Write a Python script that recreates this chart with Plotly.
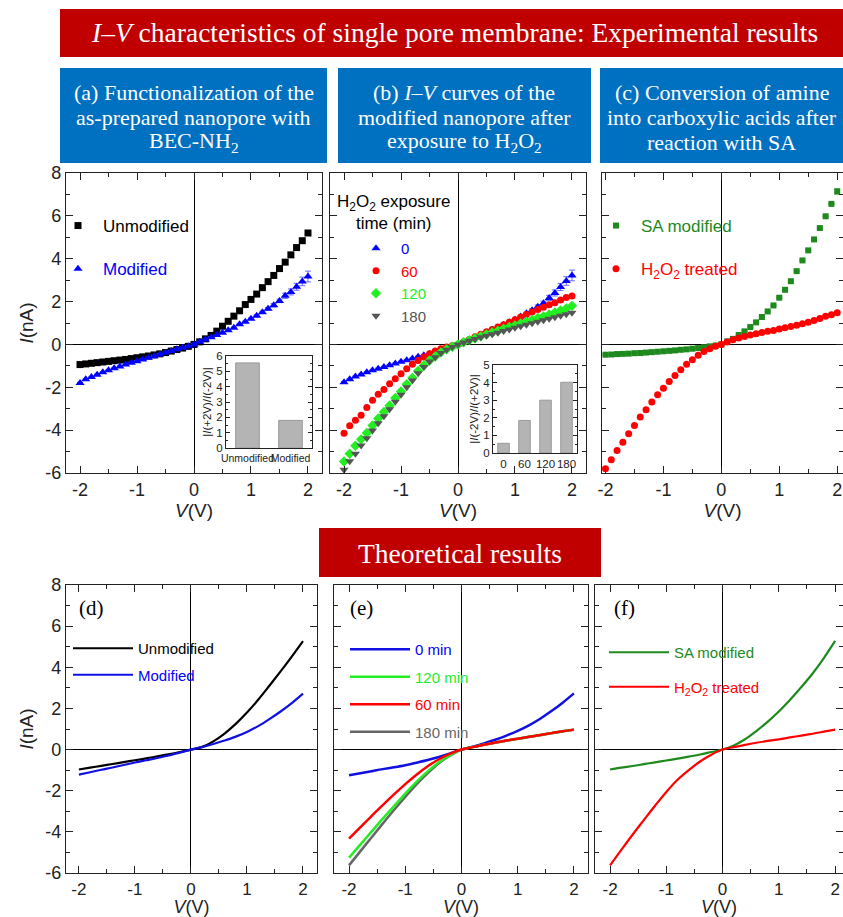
import plotly.graph_objects as go

W, H = 843, 917


def px(x):
    return x / W


def py(y):
    return 1 - y / H


# ---------------- data ----------------
V_EXP = [-2.0, -1.9, -1.8, -1.7, -1.6, -1.5, -1.4, -1.3, -1.2, -1.1, -1.0,
         -0.9, -0.8, -0.7, -0.6, -0.5, -0.4, -0.3, -0.2, -0.1, 0.0,
         0.1, 0.2, 0.3, 0.4, 0.5, 0.6, 0.7, 0.8, 0.9, 1.0,
         1.1, 1.2, 1.3, 1.4, 1.5, 1.6, 1.7, 1.8, 1.9, 2.0]
V_TH = [-2.0, -1.8, -1.6, -1.4, -1.2, -1.0, -0.8, -0.6, -0.4, -0.2, 0.0,
        0.2, 0.4, 0.6, 0.8, 1.0, 1.2, 1.4, 1.6, 1.8, 2.0]

# (a) experimental
A_UNMOD = [-0.94, -0.91, -0.88, -0.85, -0.82, -0.79, -0.76, -0.73, -0.70, -0.66, -0.62,
           -0.58, -0.54, -0.49, -0.44, -0.38, -0.31, -0.24, -0.17, -0.09, 0.0,
           0.12, 0.26, 0.42, 0.62, 0.85, 1.08, 1.32, 1.57, 1.86, 2.10,
           2.35, 2.65, 2.93, 3.22, 3.54, 3.84, 4.18, 4.52, 4.84, 5.20]
A_MOD = [-1.80, -1.63, -1.52, -1.41, -1.30, -1.20, -1.11, -1.03, -0.94, -0.86, -0.78,
         -0.70, -0.62, -0.55, -0.47, -0.39, -0.31, -0.23, -0.16, -0.08, 0.0,
         0.12, 0.23, 0.33, 0.44, 0.55, 0.66, 0.78, 0.94, 1.06, 1.20,
         1.34, 1.50, 1.66, 1.83, 2.03, 2.27, 2.45, 2.69, 2.94, 3.17]
A_MOD_ERR = [0.03] * 30 + [0.04, 0.05, 0.05, 0.06, 0.08, 0.08, 0.12, 0.14, 0.16, 0.2, 0.25]

# (b) experimental, H2O2 exposure time
B_0 = [-1.76, -1.62, -1.50, -1.40, -1.30, -1.21, -1.13, -1.05, -0.97, -0.89, -0.81,
       -0.74, -0.66, -0.58, -0.51, -0.43, -0.35, -0.27, -0.18, -0.09, 0.0,
       0.11, 0.22, 0.33, 0.44, 0.55, 0.66, 0.78, 0.91, 1.04, 1.16,
       1.30, 1.45, 1.60, 1.76, 1.92, 2.17, 2.40, 2.68, 2.96, 3.22]
B_0_ERR = [0.03] * 30 + [0.04, 0.05, 0.05, 0.06, 0.08, 0.1, 0.12, 0.14, 0.16, 0.2, 0.25]
B_60 = [-4.15, -3.80, -3.54, -3.30, -2.94, -2.61, -2.33, -2.10, -1.84, -1.60, -1.37,
        -1.13, -0.93, -0.75, -0.59, -0.44, -0.31, -0.20, -0.12, -0.06, 0.0,
        0.12, 0.23, 0.36, 0.47, 0.59, 0.70, 0.81, 0.92, 1.04, 1.15,
        1.28, 1.40, 1.51, 1.63, 1.74, 1.85, 1.95, 2.07, 2.19, 2.26]
B_120 = [-5.46, -5.10, -4.73, -4.43, -4.13, -3.78, -3.46, -3.15, -2.85, -2.50, -2.20,
         -1.86, -1.56, -1.24, -0.98, -0.75, -0.56, -0.37, -0.23, -0.11, 0.0,
         0.10, 0.20, 0.29, 0.38, 0.47, 0.56, 0.64, 0.73, 0.81, 0.89,
         0.98, 1.06, 1.14, 1.23, 1.31, 1.40, 1.49, 1.58, 1.68, 1.80]
B_180 = [-5.85, -5.45, -5.10, -4.72, -4.38, -4.02, -3.68, -3.35, -3.02, -2.68, -2.35,
         -2.00, -1.68, -1.35, -1.05, -0.80, -0.60, -0.40, -0.25, -0.12, 0.0,
         0.09, 0.17, 0.25, 0.33, 0.41, 0.48, 0.55, 0.63, 0.70, 0.78,
         0.85, 0.92, 0.99, 1.06, 1.13, 1.20, 1.27, 1.34, 1.41, 1.48]

# (c) experimental
C_SA = [-0.48, -0.47, -0.45, -0.44, -0.43, -0.41, -0.40, -0.38, -0.36, -0.34, -0.32,
        -0.30, -0.28, -0.25, -0.23, -0.20, -0.17, -0.13, -0.09, -0.05, 0.0,
        0.14, 0.26, 0.44, 0.61, 0.81, 1.03, 1.28, 1.54, 1.82, 2.18,
        2.55, 2.95, 3.42, 3.92, 4.39, 4.90, 5.43, 5.98, 6.56, 7.14]
C_SA_ERR = [0.02] * 40 + [0.12]
C_H2O2 = [-5.80, -5.38, -4.95, -4.56, -4.17, -3.78, -3.39, -3.05, -2.69, -2.35, -2.04,
          -1.73, -1.45, -1.18, -0.93, -0.72, -0.51, -0.33, -0.20, -0.09, 0.0,
          0.11, 0.22, 0.30, 0.37, 0.44, 0.50, 0.56, 0.61, 0.65, 0.72,
          0.78, 0.84, 0.90, 0.96, 1.04, 1.12, 1.21, 1.31, 1.38, 1.48]

# (d)-(f) theoretical
D_UNMOD = [-0.97, -0.88, -0.79, -0.70, -0.61, -0.52, -0.43, -0.33, -0.23, -0.12, 0.0,
           0.13, 0.40, 0.78, 1.25, 1.80, 2.42, 3.10, 3.80, 4.52, 5.27]
D_MOD = [-1.22, -1.10, -0.98, -0.87, -0.75, -0.63, -0.52, -0.41, -0.29, -0.15, 0.0,
         0.12, 0.27, 0.44, 0.63, 0.86, 1.14, 1.48, 1.85, 2.26, 2.72]
E_0 = [-1.25, -1.15, -1.05, -0.95, -0.86, -0.76, -0.64, -0.51, -0.36, -0.19, 0.0,
       0.14, 0.30, 0.48, 0.68, 0.91, 1.18, 1.50, 1.87, 2.28, 2.73]
E_60 = [-4.33, -3.78, -3.23, -2.70, -2.18, -1.68, -1.22, -0.81, -0.47, -0.20, 0.0,
        0.12, 0.23, 0.34, 0.44, 0.53, 0.62, 0.71, 0.80, 0.89, 0.97]
E_120 = [-5.26, -4.62, -3.99, -3.36, -2.75, -2.14, -1.57, -1.06, -0.62, -0.27, 0.0,
         0.12, 0.23, 0.34, 0.44, 0.53, 0.62, 0.71, 0.80, 0.89, 0.97]
E_180 = [-5.63, -4.95, -4.27, -3.60, -2.94, -2.30, -1.69, -1.14, -0.66, -0.29, 0.0,
         0.12, 0.23, 0.33, 0.43, 0.52, 0.61, 0.70, 0.79, 0.88, 0.96]
F_SA = [-0.97, -0.88, -0.80, -0.71, -0.62, -0.53, -0.44, -0.34, -0.24, -0.12, 0.0,
        0.20, 0.50, 0.90, 1.35, 1.85, 2.42, 3.04, 3.70, 4.45, 5.28]
F_H2O2 = [-5.63, -4.88, -4.14, -3.43, -2.73, -2.06, -1.47, -1.00, -0.58, -0.25, 0.0,
          0.12, 0.23, 0.33, 0.42, 0.50, 0.59, 0.68, 0.77, 0.87, 0.97]

# insets
INSET_A_CATS = ["Unmodified", "Modified"]
INSET_A_VALS = [5.55, 1.80]
INSET_B_CATS = ["0", "60", "120", "180"]
INSET_B_VALS = [0.55, 1.85, 3.00, 4.02]

# tick labels (plain hyphen minus, as in the original)
X_TICKS = [-2, -1, 0, 1, 2]
X_TICKTEXT = ["-2", "-1", "0", "1", "2"]
Y_TICKS = [-6, -4, -2, 0, 2, 4, 6, 8]
Y_TICKTEXT = ["-6", "-4", "-2", "0", "2", "4", "6", "8"]

# texts
MAIN_TITLE = "<i>I</i>–<i>V</i> characteristics of single pore membrane: Experimental results"
SUB_A = ["(a) Functionalization of the", "as-prepared nanopore with", "BEC-NH<sub>2</sub>"]
SUB_B = ["(b) <i>I</i>–<i>V</i> curves of the", "modified nanopore after", "exposure to H<sub>2</sub>O<sub>2</sub>"]
SUB_C = ["(c) Conversion of amine", "into carboxylic acids after", "reaction with SA"]
THEORY_TITLE = "Theoretical results"

# ---------------- styling ----------------
SANS = "Liberation Sans, Arial, sans-serif"
SERIF = "Liberation Serif, Times New Roman, serif"
INK = "#222222"
RED_BANNER = "#C00000"
BLUE_BOX = "#0070C0"
BLUE = "#0000FF"
RED = "#FF0000"
LIME = "#22EE22"
GREY = "#555555"
DKGREEN = "#1E8A1E"


def col(text, c):
    return f"<span style='color:{c}'>{text}</span>"


fig = go.Figure()

# panel a
fig.add_trace(go.Scatter(x=V_EXP, y=A_UNMOD, mode="markers", name=col("Unmodified", "black"),
                         marker=dict(symbol="square", size=7, color="black"),
                         xaxis="x", yaxis="y", legend="legend", legendgroup="a1"))
fig.add_trace(go.Scatter(x=V_EXP, y=A_MOD, mode="markers", name=col("Modified", BLUE),
                         marker=dict(symbol="triangle-up", size=8, color=BLUE),
                         error_y=dict(type="data", array=A_MOD_ERR, color="#6a6aff", thickness=1, width=3),
                         xaxis="x", yaxis="y", legend="legend", legendgroup="a2"))

# panel b
fig.add_trace(go.Scatter(x=V_EXP, y=B_0, mode="markers", name=col("0", BLUE),
                         marker=dict(symbol="triangle-up", size=8, color=BLUE),
                         error_y=dict(type="data", array=B_0_ERR, color="#6a6aff", thickness=1, width=3),
                         xaxis="x2", yaxis="y2", legend="legend2"))
fig.add_trace(go.Scatter(x=V_EXP, y=B_60, mode="markers", name=col("60", RED),
                         marker=dict(symbol="circle", size=7, color=RED),
                         xaxis="x2", yaxis="y2", legend="legend2"))
fig.add_trace(go.Scatter(x=V_EXP, y=B_120, mode="markers", name=col("120", LIME),
                         marker=dict(symbol="diamond", size=8, color=LIME),
                         xaxis="x2", yaxis="y2", legend="legend2"))
fig.add_trace(go.Scatter(x=V_EXP, y=B_180, mode="markers", name=col("180", GREY),
                         marker=dict(symbol="triangle-down", size=8, color=GREY),
                         xaxis="x2", yaxis="y2", legend="legend2"))

# panel c
fig.add_trace(go.Scatter(x=V_EXP, y=C_SA, mode="markers", name=col("SA modified", DKGREEN),
                         marker=dict(symbol="square", size=6, color=DKGREEN),
                         error_y=dict(type="data", array=C_SA_ERR, color="#66aa66", thickness=1, width=3),
                         xaxis="x3", yaxis="y3", legend="legend3", legendgroup="c1"))
fig.add_trace(go.Scatter(x=V_EXP, y=C_H2O2, mode="markers",
                         name=col("H<sub>2</sub>O<sub>2</sub> treated", RED),
                         marker=dict(symbol="circle", size=7, color=RED),
                         xaxis="x3", yaxis="y3", legend="legend3", legendgroup="c2"))

# panel d
fig.add_trace(go.Scatter(x=V_TH, y=D_UNMOD, mode="lines", name=col("Unmodified", "black"),
                         line=dict(color="black", width=2.2, shape="spline", smoothing=1.0),
                         xaxis="x4", yaxis="y4", legend="legend4", legendgroup="d1"))
fig.add_trace(go.Scatter(x=V_TH, y=D_MOD, mode="lines", name=col("Modified", BLUE),
                         line=dict(color="#1010E0", width=2.2, shape="spline", smoothing=1.0),
                         xaxis="x4", yaxis="y4", legend="legend4", legendgroup="d2"))

# panel e
fig.add_trace(go.Scatter(x=V_TH, y=E_0, mode="lines", name=col("0 min", BLUE),
                         line=dict(color="#1010E0", width=2.5, shape="spline", smoothing=1.0), legendrank=1,
                         xaxis="x5", yaxis="y5", legend="legend5", legendgroup="e1"))
fig.add_trace(go.Scatter(x=V_TH, y=E_180, mode="lines", name=col("180 min", "#666666"),
                         line=dict(color="#666666", width=2.5, shape="spline", smoothing=1.0), legendrank=4,
                         xaxis="x5", yaxis="y5", legend="legend5", legendgroup="e4"))
fig.add_trace(go.Scatter(x=V_TH, y=E_120, mode="lines", name=col("120 min", LIME),
                         line=dict(color=LIME, width=2.5, shape="spline", smoothing=1.0), legendrank=2,
                         xaxis="x5", yaxis="y5", legend="legend5", legendgroup="e2"))
fig.add_trace(go.Scatter(x=V_TH, y=E_60, mode="lines", name=col("60 min", RED),
                         line=dict(color=RED, width=2.5, shape="spline", smoothing=1.0), legendrank=3,
                         xaxis="x5", yaxis="y5", legend="legend5", legendgroup="e3"))

# panel f
fig.add_trace(go.Scatter(x=V_TH, y=F_SA, mode="lines", name=col("SA modified", DKGREEN),
                         line=dict(color=DKGREEN, width=2.2, shape="spline", smoothing=1.0),
                         xaxis="x6", yaxis="y6", legend="legend6", legendgroup="f1"))
fig.add_trace(go.Scatter(x=V_TH, y=F_H2O2, mode="lines",
                         name=col("H<sub>2</sub>O<sub>2</sub> treated", RED),
                         line=dict(color=RED, width=2.2, shape="spline", smoothing=1.0),
                         xaxis="x6", yaxis="y6", legend="legend6", legendgroup="f2"))

# insets
fig.add_trace(go.Bar(x=INSET_A_CATS, y=INSET_A_VALS, marker=dict(color="#B4B4B4", line=dict(color="#9a9a9a", width=1)),
                     xaxis="x7", yaxis="y7", showlegend=False))
fig.add_trace(go.Bar(x=INSET_B_CATS, y=INSET_B_VALS, marker=dict(color="#B4B4B4", line=dict(color="#9a9a9a", width=1)),
                     xaxis="x8", yaxis="y8", showlegend=False))

# ---------------- axes ----------------
TOP_Y = [py(473), py(173)]
BOT_Y = [py(873), py(585)]


def xax(dom, rng, anchor, title_standoff, title_size=19, tick_size=18):
    return dict(domain=dom, range=rng, anchor=anchor, showline=True, linecolor=INK, linewidth=1.4,
                mirror="ticks", ticks="inside", ticklen=7, tickwidth=1.3, tickcolor=INK,
                tickmode="array", tickvals=X_TICKS, ticktext=X_TICKTEXT,
                minor=dict(ticks="inside", ticklen=4, tickwidth=1.2, tickcolor=INK,
                           tickmode="linear", dtick=0.5, tick0=0, showgrid=False),
                showgrid=False, zeroline=True, zerolinecolor="black", zerolinewidth=1.3,
                tickfont=dict(family=SANS, size=tick_size, color=INK),
                title=dict(text="<i>V</i>(V)", font=dict(family=SANS, size=title_size, color=INK),
                           standoff=title_standoff),
                automargin=False, fixedrange=True)


def yax(dom, anchor, labels, title):
    d = dict(domain=dom, range=[-6, 8], anchor=anchor, showline=True, linecolor=INK, linewidth=1.4,
             mirror="ticks", ticks="inside", ticklen=7, tickwidth=1.3, tickcolor=INK,
             tickmode="array", tickvals=Y_TICKS, ticktext=Y_TICKTEXT,
             minor=dict(ticks="inside", ticklen=4, tickwidth=1.2, tickcolor=INK,
                        tickmode="linear", dtick=1, tick0=0, showgrid=False),
             showgrid=False, zeroline=True, zerolinecolor="black", zerolinewidth=1.3,
             showticklabels=labels, tickfont=dict(family=SANS, size=18, color=INK),
             automargin=False, fixedrange=True)
    if title:
        d["title"] = dict(text="<i>I</i>(nA)", font=dict(family=SANS, size=19, color=INK), standoff=6)
    return d


layout = dict(
    width=W, height=H, margin=dict(l=0, r=0, t=0, b=0),
    paper_bgcolor="white", plot_bgcolor="white", showlegend=True, bargap=0.45,
    xaxis=xax([px(66), px(322)], [-2.246, 2.246], "y", 2),
    yaxis=yax(TOP_Y, "x", True, True),
    xaxis2=xax([px(330), px(586)], [-2.246, 2.246], "y2", 2),
    yaxis2=yax(TOP_Y, "x2", False, False),
    xaxis3=xax([px(602), 1.0], [-2.06, 2.1], "y3", 2),
    yaxis3=yax(TOP_Y, "x3", False, False),
    xaxis4=xax([px(66), px(317)], [-2.23, 2.25], "y4", 6, 18, 17),
    yaxis4=yax(BOT_Y, "x4", True, True),
    xaxis5=xax([px(334), px(588)], [-2.267, 2.25], "y5", 6, 18, 17),
    yaxis5=yax(BOT_Y, "x5", False, False),
    xaxis6=xax([px(595), 1.0], [-2.267, 2.14], "y6", 6, 18, 17),
    yaxis6=yax(BOT_Y, "x6", False, False),
)

inset_x = dict(showline=True, linecolor=INK, linewidth=1, mirror=True, ticks="", tickangle=0,
               tickfont=dict(family=SANS, size=10.5, color=INK), showgrid=False, automargin=False, fixedrange=True)
inset_y = dict(showline=True, linecolor=INK, linewidth=1, mirror="ticks", ticks="inside", ticklen=4,
               tickcolor=INK, dtick=1, minor=dict(ticks="inside", ticklen=2, dtick=0.5, tickcolor=INK),
               tickfont=dict(family=SANS, size=11.5, color=INK), showgrid=False, zeroline=False,
               automargin=False, fixedrange=True)

layout["xaxis7"] = dict(inset_x, domain=[px(226), px(312)], anchor="y7")
layout["yaxis7"] = dict(inset_y, domain=[py(448), py(356)], anchor="x7", range=[0, 6],
                        title=dict(text="|<i>I</i>(+2V)/<i>I</i>(-2V)|", font=dict(family=SANS, size=11.5, color=INK), standoff=2))
layout["xaxis8"] = dict(inset_x, domain=[px(493), px(577)], anchor="y8", tickfont=dict(family=SANS, size=11.5, color=INK))
layout["yaxis8"] = dict(inset_y, domain=[py(453), py(365)], anchor="x8", range=[0, 5],
                        title=dict(text="|<i>I</i>(-2V)/<i>I</i>(+2V)|", font=dict(family=SANS, size=11.5, color=INK), standoff=2))

# legends
LEG = dict(bgcolor="rgba(0,0,0,0)", borderwidth=0, xanchor="left", yanchor="top", orientation="v")
layout["legend"] = dict(LEG, x=px(53), y=py(208), font=dict(family=SANS, size=17), tracegroupgap=18, itemwidth=40)
layout["legend2"] = dict(LEG, x=px(351), y=py(232), font=dict(family=SANS, size=15), itemwidth=40)
layout["legend3"] = dict(LEG, x=px(591), y=py(208), font=dict(family=SANS, size=17), tracegroupgap=18, itemwidth=40)
layout["legend4"] = dict(LEG, x=px(68), y=py(632), font=dict(family=SANS, size=15), tracegroupgap=4, itemwidth=60)
layout["legend5"] = dict(LEG, x=px(345), y=py(633), font=dict(family=SANS, size=15), tracegroupgap=5, itemwidth=60)
layout["legend6"] = dict(LEG, x=px(604), y=py(636), font=dict(family=SANS, size=15), tracegroupgap=12, itemwidth=60)

# banners and boxes
shapes = [
    dict(type="rect", xref="paper", yref="paper", x0=px(60), x1=1.0, y0=py(57), y1=py(9),
         fillcolor=RED_BANNER, line=dict(width=0), layer="below"),
    dict(type="rect", xref="paper", yref="paper", x0=px(60), x1=px(327), y0=py(163), y1=py(68),
         fillcolor=BLUE_BOX, line=dict(width=0), layer="below"),
    dict(type="rect", xref="paper", yref="paper", x0=px(338), x1=px(591), y0=py(163), y1=py(68),
         fillcolor=BLUE_BOX, line=dict(width=0), layer="below"),
    dict(type="rect", xref="paper", yref="paper", x0=px(600), x1=1.0, y0=py(163), y1=py(68),
         fillcolor=BLUE_BOX, line=dict(width=0), layer="below"),
    dict(type="rect", xref="paper", yref="paper", x0=px(319), x1=px(601), y0=py(577), y1=py(528),
         fillcolor=RED_BANNER, line=dict(width=0), layer="below"),
]

ann = [
    dict(text=MAIN_TITLE, x=px(454), y=py(33), font=dict(family=SERIF, size=27.5, color="white")),
    dict(text=THEORY_TITLE, x=px(460), y=py(553), font=dict(family=SERIF, size=27.5, color="white")),
    dict(text="H<sub>2</sub>O<sub>2</sub> exposure<br>time (min)", x=px(393), y=py(212),
         font=dict(family=SANS, size=17, color="black")),
    dict(text="(d)", x=px(91), y=py(608), font=dict(family=SERIF, size=21, color="black")),
    dict(text="(e)", x=px(361), y=py(608), font=dict(family=SERIF, size=21, color="black")),
    dict(text="(f)", x=px(624), y=py(608), font=dict(family=SERIF, size=21, color="black")),
]
for lines, cx in ((SUB_A, 193.5), (SUB_B, 464.5), (SUB_C, 721.5)):
    for k, line in enumerate(lines):
        ann.append(dict(text=line, x=px(cx), y=py(92 + 25 * k), font=dict(family=SERIF, size=22, color="white")))

for a in ann:
    a.update(xref="paper", yref="paper", showarrow=False, xanchor="center", yanchor="middle")

layout["shapes"] = shapes
layout["annotations"] = ann
fig.update_layout(**layout)

fig.write_html("out.html", config={"displayModeBar": False},
               post_script="document.body.style.margin='0';document.body.style.overflow='hidden';")
